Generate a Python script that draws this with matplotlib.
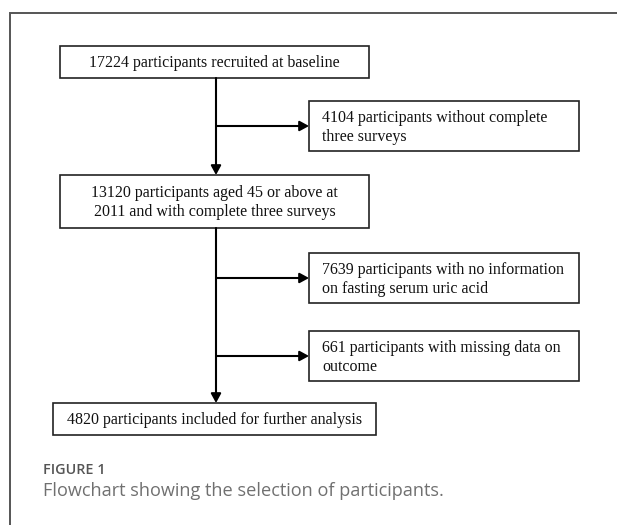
import matplotlib
matplotlib.use("Agg")
import matplotlib.pyplot as plt
from matplotlib.patches import Rectangle

# ---- content ----
main_texts = [
    "17224 participants recruited at baseline",
    "13120 participants aged 45 or above at\n2011 and with complete three surveys",
    "4820 participants included for further analysis",
]
excluded_texts = [
    "4104 participants without complete\nthree surveys",
    "7639 participants with no information\non fasting serum uric acid",
    "661 participants with missing data on\noutcome",
]
figure_label = "FIGURE 1"
caption_text = "Flowchart showing the selection of participants."

# ---- layout (pixel coordinates, y downward) ----
W, H = 617, 525
main_boxes = [(60, 46, 369, 78), (60, 175, 369, 228), (53, 403, 376, 435)]
excl_boxes = [(309, 101, 579, 151), (309, 253, 579, 303), (309, 331, 579, 381)]
spine_x = 216

fig = plt.figure(figsize=(W / 100, H / 100), dpi=100)
ax = fig.add_axes([0, 0, 1, 1])
ax.set_xlim(0, W)
ax.set_ylim(H, 0)
ax.axis("off")

# outer frame (left and top edges visible)
ax.plot([9.5, 9.5, W + 5], [H + 5, 12.5, 12.5], color="#555555", lw=1.4,
        solid_joinstyle="miter")

serif = "Liberation Serif"
fs = 11.5
box_color = "#222222"

def draw_box(b):
    x0, y0, x1, y1 = b
    ax.add_patch(Rectangle((x0, y0), x1 - x0, y1 - y0, fill=False,
                           edgecolor=box_color, lw=1.2))

for b, t in zip(main_boxes, main_texts):
    draw_box(b)
    ax.text((b[0] + b[2]) / 2, (b[1] + b[3]) / 2 + 1, t, ha="center",
            va="center", family=serif, fontsize=fs, color="#111111",
            linespacing=1.2)

for b, t in zip(excl_boxes, excluded_texts):
    draw_box(b)
    ax.text(b[0] + 13, (b[1] + b[3]) / 2 + 1.5, t, ha="left", va="center",
            family=serif, fontsize=fs, color="#111111", linespacing=1.32)

arrow_kw = dict(arrowstyle="-|>,head_length=0.55,head_width=0.3",
                color="black", lw=1.5, shrinkA=0, shrinkB=0)

# vertical arrows between main boxes
for a, b in zip(main_boxes[:-1], main_boxes[1:]):
    ax.annotate("", xy=(spine_x, b[1]), xytext=(spine_x, a[3]),
                arrowprops=arrow_kw)

# horizontal arrows to exclusion boxes
for b in excl_boxes:
    yc = (b[1] + b[3]) / 2
    ax.annotate("", xy=(b[0], yc), xytext=(spine_x, yc), arrowprops=arrow_kw)

ax.text(43, 474, figure_label, ha="left", va="baseline", family="Open Sans",
        fontsize=10.4, fontweight="semibold", color="#555555")
ax.text(43, 496, caption_text, ha="left", va="baseline", family="Open Sans",
        fontsize=13.1, color="#707070")

fig.savefig("out.png", dpi=100)
